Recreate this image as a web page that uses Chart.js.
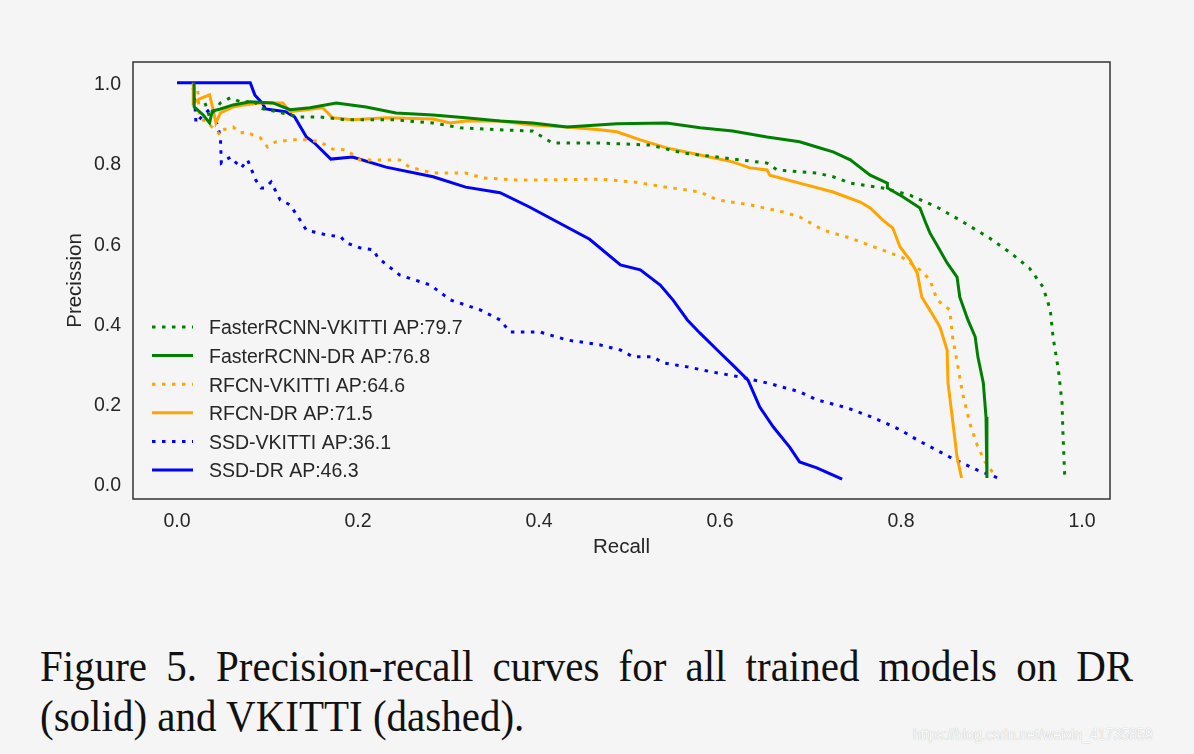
<!DOCTYPE html>
<html>
<head>
<meta charset="utf-8">
<script src="https://cdn.jsdelivr.net/npm/chart.js@4.4.1/dist/chart.umd.min.js"></script>
<style>
  html, body { margin: 0; padding: 0; background: #f5f5f5; }
  body { width: 1194px; height: 754px; position: relative; overflow: hidden; }
  #wrap { position: absolute; left: 0; top: 0; width: 1194px; height: 600px; }
  .cap { position: absolute; left: 40px; font-family: "Liberation Serif", "Times New Roman", serif;
         font-size: 44px; line-height: 50px; color: #111; white-space: nowrap;
         transform: scaleX(0.932); transform-origin: 0 0; }
  #cap1 { top: 642px; width: 1173px; text-align: justify; text-align-last: justify; white-space: normal; }
  #cap2 { top: 692px; }
  #wm { position: absolute; left: 913px; top: 726px; font-family: "Liberation Sans", Arial, sans-serif;
        font-size: 16px; color: #fbfbfb; text-shadow: 0 0 1px rgba(0,0,0,0.3); white-space: nowrap;
        transform: scaleX(0.88); transform-origin: 0 0; }
</style>
</head>
<body>
<div id="wrap"><canvas id="c" width="1194" height="600"></canvas></div>
<div id="cap1" class="cap">Figure 5. Precision-recall curves for all trained models on DR</div>
<div id="cap2" class="cap">(solid) and VKITTI (dashed).</div>
<div id="wm">https://blog.csdn.net/weixin_41735859</div>
<script>
// ---- data ----
const xTickValues = [0.0, 0.2, 0.4, 0.6, 0.8, 1.0];
const yTickValues = [0.0, 0.2, 0.4, 0.6, 0.8, 1.0];
const seriesLabels = [
  "FasterRCNN-VKITTI AP:79.7",
  "FasterRCNN-DR AP:76.8",
  "RFCN-VKITTI AP:64.6",
  "RFCN-DR AP:71.5",
  "SSD-VKITTI AP:36.1",
  "SSD-DR AP:46.3"
];

const fasterVkittiRecall    = [0.031,0.036,0.048,0.059,0.073,0.084,0.092,0.136,0.158,0.187,0.239,0.283,0.313,0.357,0.393,0.404,0.415,0.467,0.523,0.559,0.597,0.652,0.663,0.707,0.725,0.744,0.780,0.810,0.840,0.865,0.898,0.920,0.942,0.957,0.965,0.968,0.974,0.978,0.979,0.981];
const fasterVkittiPrecision = [0.950,0.915,0.950,0.963,0.950,0.957,0.937,0.915,0.915,0.908,0.908,0.900,0.888,0.883,0.880,0.865,0.850,0.850,0.845,0.825,0.815,0.800,0.783,0.775,0.766,0.750,0.738,0.720,0.690,0.658,0.613,0.578,0.538,0.491,0.434,0.367,0.284,0.202,0.127,0.017];

const fasterDrRecall    = [0.019,0.019,0.029,0.036,0.039,0.048,0.062,0.081,0.106,0.125,0.147,0.176,0.209,0.242,0.283,0.319,0.357,0.393,0.431,0.486,0.541,0.578,0.614,0.652,0.688,0.707,0.725,0.744,0.766,0.785,0.785,0.802,0.821,0.827,0.832,0.841,0.851,0.862,0.865,0.874,0.882,0.885,0.891,0.894,0.895];
const fasterDrPrecision = [1.000,0.940,0.920,0.900,0.930,0.935,0.945,0.953,0.950,0.933,0.938,0.950,0.940,0.925,0.920,0.913,0.905,0.900,0.890,0.898,0.900,0.888,0.880,0.865,0.853,0.840,0.828,0.808,0.770,0.750,0.738,0.716,0.688,0.653,0.626,0.591,0.551,0.516,0.466,0.409,0.367,0.317,0.252,0.167,0.015];

const rfcnVkittiRecall    = [0.023,0.025,0.034,0.048,0.051,0.062,0.070,0.076,0.084,0.092,0.100,0.109,0.128,0.143,0.158,0.172,0.187,0.202,0.246,0.257,0.283,0.319,0.338,0.375,0.393,0.467,0.504,0.541,0.578,0.597,0.633,0.670,0.688,0.714,0.744,0.780,0.802,0.821,0.832,0.840,0.854,0.857,0.863,0.868,0.876,0.885,0.893,0.902];
const rfcnVkittiPrecision = [0.980,0.913,0.900,0.870,0.883,0.890,0.875,0.878,0.870,0.863,0.840,0.853,0.858,0.858,0.853,0.835,0.833,0.808,0.808,0.790,0.775,0.775,0.763,0.758,0.758,0.760,0.753,0.740,0.728,0.708,0.696,0.678,0.666,0.633,0.613,0.583,0.564,0.534,0.509,0.459,0.434,0.367,0.292,0.227,0.152,0.092,0.055,0.027];

const rfcnDrRecall    = [0.018,0.018,0.025,0.036,0.040,0.043,0.048,0.062,0.073,0.092,0.117,0.125,0.143,0.161,0.172,0.194,0.231,0.283,0.302,0.319,0.357,0.393,0.431,0.467,0.486,0.512,0.541,0.578,0.614,0.633,0.652,0.655,0.688,0.725,0.755,0.766,0.780,0.791,0.799,0.810,0.818,0.823,0.834,0.843,0.851,0.852,0.858,0.862,0.867];
const rfcnDrPrecision = [1.000,0.950,0.960,0.970,0.933,0.900,0.925,0.940,0.945,0.950,0.950,0.928,0.933,0.938,0.913,0.908,0.913,0.910,0.900,0.905,0.905,0.895,0.890,0.883,0.878,0.858,0.838,0.820,0.803,0.788,0.783,0.770,0.750,0.728,0.703,0.688,0.658,0.638,0.591,0.559,0.526,0.466,0.426,0.392,0.334,0.252,0.142,0.067,0.015];

const ssdVkittiRecall    = [0.018,0.020,0.021,0.029,0.038,0.043,0.048,0.049,0.059,0.071,0.078,0.087,0.093,0.097,0.104,0.114,0.125,0.136,0.143,0.165,0.181,0.187,0.202,0.217,0.222,0.246,0.280,0.302,0.335,0.357,0.368,0.401,0.431,0.467,0.490,0.504,0.526,0.537,0.564,0.592,0.622,0.652,0.688,0.707,0.740,0.762,0.780,0.799,0.818,0.854,0.884,0.907];
const ssdVkittiPrecision = [0.987,0.940,0.900,0.920,0.937,0.907,0.865,0.800,0.815,0.788,0.808,0.758,0.738,0.738,0.753,0.708,0.696,0.658,0.633,0.621,0.616,0.601,0.589,0.584,0.564,0.521,0.496,0.459,0.434,0.409,0.379,0.379,0.359,0.347,0.334,0.317,0.317,0.302,0.292,0.279,0.267,0.252,0.230,0.210,0.190,0.172,0.155,0.135,0.110,0.067,0.035,0.015];

const ssdDrRecall    = [0.000,0.081,0.086,0.094,0.098,0.120,0.130,0.143,0.152,0.170,0.194,0.231,0.283,0.319,0.357,0.390,0.423,0.456,0.490,0.512,0.534,0.548,0.564,0.578,0.597,0.614,0.631,0.644,0.659,0.677,0.688,0.707,0.735];
const ssdDrPrecision = [1.000,1.000,0.970,0.950,0.935,0.928,0.915,0.865,0.850,0.810,0.815,0.790,0.766,0.740,0.726,0.690,0.650,0.610,0.546,0.534,0.496,0.459,0.409,0.376,0.334,0.297,0.259,0.192,0.142,0.092,0.055,0.040,0.012];

const GREEN = "#008000", ORANGE = "#ffa500", BLUE = "#0000ff";
const DOT = [3.5, 6.5];
const TEXT = "#262626";

function mk(label, rec, prec, color, dotted) {
  return {
    label: label,
    data: rec.map((r, i) => ({ x: r, y: prec[i] })),
    borderColor: color,
    backgroundColor: color,
    borderWidth: 3,
    borderDash: dotted ? DOT : [],
    borderCapStyle: "butt",
    borderJoinStyle: "miter",
    pointRadius: 0,
    pointHoverRadius: 0,
    fill: false,
    tension: 0
  };
}

const datasets = [
  mk(seriesLabels[0], fasterVkittiRecall, fasterVkittiPrecision, GREEN, true),
  mk(seriesLabels[1], fasterDrRecall, fasterDrPrecision, GREEN, false),
  mk(seriesLabels[2], rfcnVkittiRecall, rfcnVkittiPrecision, ORANGE, true),
  mk(seriesLabels[3], rfcnDrRecall, rfcnDrPrecision, ORANGE, false),
  mk(seriesLabels[4], ssdVkittiRecall, ssdVkittiPrecision, BLUE, true),
  mk(seriesLabels[5], ssdDrRecall, ssdDrPrecision, BLUE, false)
];

const frameAndLegend = {
  id: "frameAndLegend",
  afterDatasetsDraw(chart) {
    const ctx = chart.ctx, a = chart.chartArea;
    ctx.save();
    ctx.strokeStyle = "#333333";
    ctx.lineWidth = 1.5;
    ctx.setLineDash([]);
    ctx.strokeRect(a.left, a.top, a.right - a.left, a.bottom - a.top);
    // legend (lower left, inside axes)
    const x0 = a.left + 19, x1 = a.left + 60, tx = a.left + 76;
    const yStart = a.bottom - 172, step = 28.6;
    ctx.font = "19.5px 'Liberation Sans', Arial, sans-serif";
    ctx.textBaseline = "middle";
    ctx.textAlign = "left";
    chart.data.datasets.forEach((ds, i) => {
      const y = yStart + i * step;
      ctx.beginPath();
      ctx.strokeStyle = ds.borderColor;
      ctx.lineWidth = ds.borderWidth;
      ctx.lineCap = "butt";
      ctx.setLineDash(ds.borderDash || []);
      ctx.moveTo(x0, y);
      ctx.lineTo(x1, y);
      ctx.stroke();
      ctx.setLineDash([]);
      ctx.fillStyle = TEXT;
      ctx.fillText(ds.label, tx, y + 2);
    });
    ctx.restore();
  }
};

new Chart(document.getElementById("c"), {
  type: "line",
  data: { datasets: datasets },
  options: {
    responsive: false,
    animation: false,
    events: [],
    layout: { padding: { left: 0, top: 62, right: 84, bottom: 0 } },
    plugins: { legend: { display: false }, tooltip: { enabled: false } },
    scales: {
      x: {
        type: "linear",
        min: -0.0486,
        max: 1.031,
        afterBuildTicks: (s) => { s.ticks = xTickValues.map(v => ({ value: v })); },
        afterFit: (s) => { s.height = 101; },
        grid: { display: false, drawTicks: false },
        border: { display: false },
        ticks: {
          padding: 11,
          color: TEXT,
          font: { family: "'Liberation Sans', Arial, sans-serif", size: 19.5 },
          maxRotation: 0,
          callback: (v) => Number(v).toFixed(1)
        },
        title: {
          display: true,
          text: "Recall",
          color: TEXT,
          font: { family: "'Liberation Sans', Arial, sans-serif", size: 20.5 },
          padding: { top: 0, bottom: 40 }
        }
      },
      y: {
        type: "linear",
        min: -0.0374,
        max: 1.052,
        afterBuildTicks: (s) => { s.ticks = yTickValues.map(v => ({ value: v })); },
        afterFit: (s) => { s.width = 133; },
        grid: { display: false, drawTicks: false },
        border: { display: false },
        ticks: {
          padding: 12,
          labelOffset: 2,
          color: TEXT,
          font: { family: "'Liberation Sans', Arial, sans-serif", size: 19.5 },
          callback: (v) => Number(v).toFixed(1)
        },
        title: {
          display: true,
          text: "Precission",
          color: TEXT,
          font: { family: "'Liberation Sans', Arial, sans-serif", size: 20.5 },
          padding: { top: 63, bottom: 0 }
        }
      }
    }
  },
  plugins: [frameAndLegend]
});
</script>
</body>
</html>
